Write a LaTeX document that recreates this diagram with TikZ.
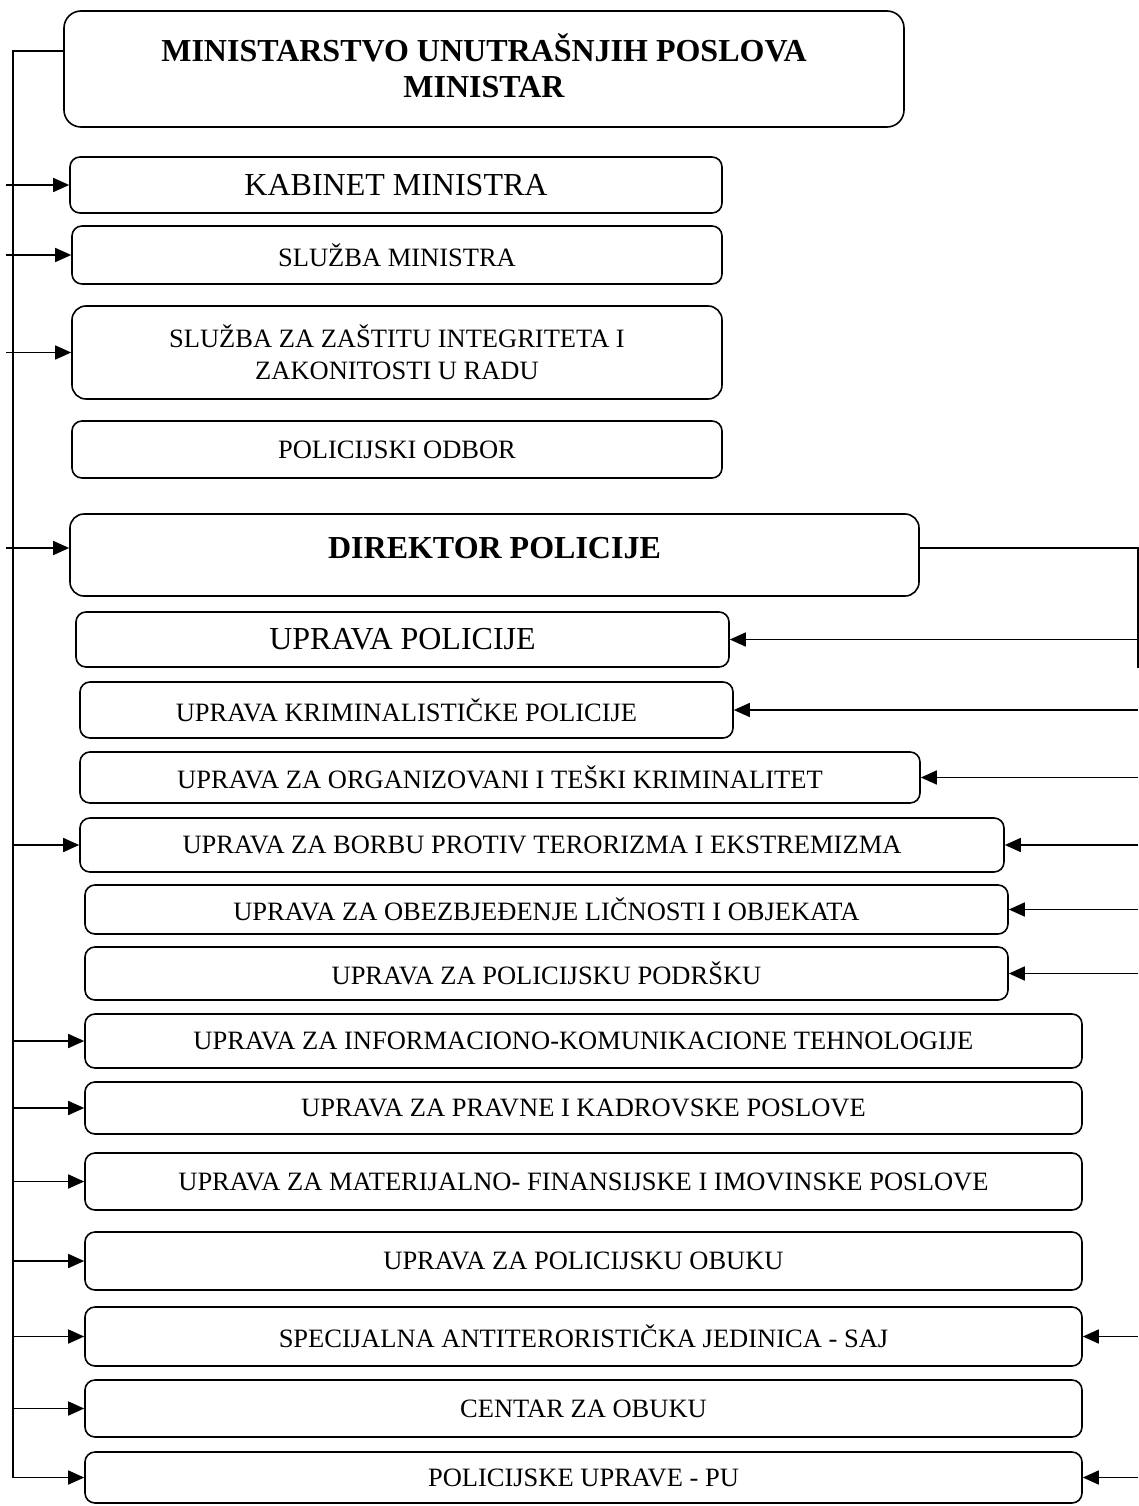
\documentclass[tikz,border=0pt]{standalone}
\usepackage{fontspec}
\setmainfont{Liberation Serif}
\usetikzlibrary{arrows.meta}
\tikzset{
  unit/.style={draw, line width=1.6pt, rounded corners=10pt, inner sep=0pt, align=center,
    font=\fontsize{26.5}{32}\selectfont},
  bigunit/.style={unit, font=\fontsize{32}{36}\selectfont},
  head/.style={unit, rounded corners=17pt, font=\fontsize{32}{36}\selectfont\bfseries},
  link/.style={line width=1.6pt},
  arr/.style={link, -{Triangle[length=16pt,width=14pt]}}
}
\begin{document}
\begin{tikzpicture}[x=1pt, y=-1pt]
\useasboundingbox (0,0) rectangle (1139,1506);
% Ministry and minister's units
\node[head, minimum width=840, minimum height=116, text depth=6pt] (min) at (484,69) {MINISTARSTVO UNUTRAŠNJIH POSLOVA\\MINISTAR};
\node[bigunit, minimum width=652, minimum height=56] (kab) at (396,185) {KABINET MINISTRA};
\node[unit, minimum width=650, minimum height=58] (sluzba) at (397,255) {SLUŽBA MINISTRA};
\node[unit, minimum width=650, minimum height=93, rounded corners=14pt] (zastita) at (397,352.5) {SLUŽBA ZA ZAŠTITU INTEGRITETA I\\ZAKONITOSTI U RADU};
\node[unit, minimum width=650, minimum height=57] (odbor) at (397,449.5) {POLICIJSKI ODBOR};
\node[head, minimum width=849, minimum height=82, rounded corners=14pt, text depth=14pt] (dir) at (494.5,555) {DIREKTOR POLICIJE};

% Police directorates
\node[bigunit, minimum width=653, minimum height=55] (upol) at (402.5,639.5) {UPRAVA POLICIJE};
\node[unit, minimum width=653, minimum height=56] (ukrim) at (406.5,710) {UPRAVA KRIMINALISTIČKE POLICIJE};
\node[unit, minimum width=840, minimum height=51] (uorg) at (500,777.5) {UPRAVA ZA ORGANIZOVANI I TEŠKI KRIMINALITET};
\node[unit, minimum width=924, minimum height=54] (uter) at (542,845) {UPRAVA ZA BORBU PROTIV TERORIZMA I EKSTREMIZMA};
\node[unit, minimum width=923, minimum height=49] (uobj) at (546.5,909.5) {UPRAVA ZA OBEZBJEĐENJE LIČNOSTI I OBJEKATA};
\node[unit, minimum width=923, minimum height=53] (upod) at (546.5,973.5) {UPRAVA ZA POLICIJSKU PODRŠKU};
\node[unit, minimum width=997, minimum height=54] (uikt) at (583.5,1041) {UPRAVA ZA INFORMACIONO-KOMUNIKACIONE TEHNOLOGIJE};
\node[unit, minimum width=997, minimum height=52] (upk) at (583.5,1108) {UPRAVA ZA PRAVNE I KADROVSKE POSLOVE};
\node[unit, minimum width=997, minimum height=57] (umf) at (583.5,1181.5) {UPRAVA ZA MATERIJALNO- FINANSIJSKE I IMOVINSKE POSLOVE};
\node[unit, minimum width=997, minimum height=58] (upo) at (583.5,1261) {UPRAVA ZA POLICIJSKU OBUKU};
\node[unit, minimum width=997, minimum height=59] (saj) at (583.5,1336.5) {SPECIJALNA ANTITERORISTIČKA JEDINICA - SAJ};
\node[unit, minimum width=997, minimum height=57] (cent) at (583.5,1408.5) {CENTAR ZA OBUKU};
\node[unit, minimum width=997, minimum height=51] (pu) at (583.5,1477.5) {POLICIJSKE UPRAVE - PU};

% Left bus from the minister
\coordinate (bus) at (13,0);
\draw[link] ([yshift=18pt]min.west) -| (bus |- pu.east);
\foreach \n in {kab, sluzba, zastita}
  \draw[arr] ([xshift=-7pt]\n.west -| bus) -- (\n.west);
\draw[arr] ([xshift=-7pt,yshift=7pt]dir.west -| bus) -- ([yshift=7pt]dir.west);
\foreach \n in {uter, uikt, upk, umf, upo, saj, cent, pu}
  \draw[arr] (\n.west -| bus) -- (\n.west);

% Right bus from the director
\coordinate (rbus) at (1138,0);
\draw[link] ([yshift=7pt]dir.east) -| (rbus |- upol.south);
\foreach \n in {upol, ukrim, uorg, uter, uobj, upod, saj, pu}
  \draw[arr] (\n.east -| rbus) -- (\n.east);
\end{tikzpicture}
\end{document}
